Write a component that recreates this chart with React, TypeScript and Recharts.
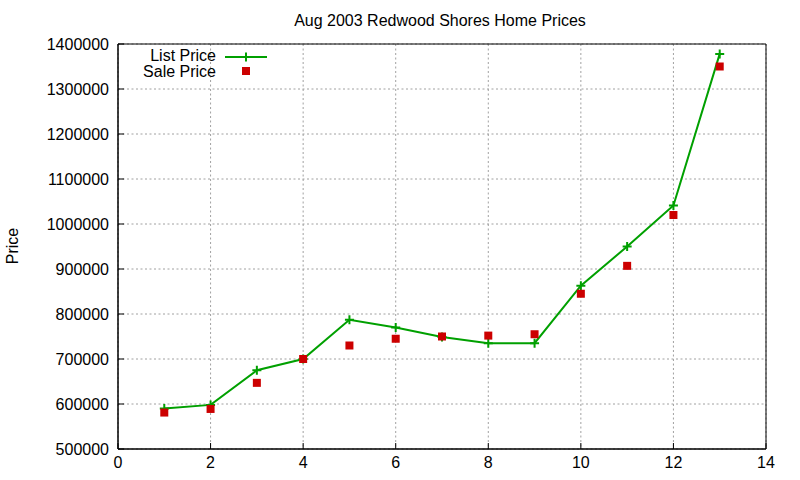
import React from 'react';
import { ComposedChart, Line, Scatter, XAxis, YAxis, CartesianGrid, ReferenceArea } from 'recharts';

// months (x) and prices
const months = [1, 2, 3, 4, 5, 6, 7, 8, 9, 10, 11, 12, 13];
const listPrice = [590000, 598000, 675000, 700000, 787000, 770000, 749000, 735000, 735000, 863000, 950000, 1041000, 1378000];
const salePrice = [581000, 589000, 647000, 700000, 730000, 745000, 750000, 752000, 755000, 845000, 907000, 1020000, 1350000];

const xTicks = [0, 2, 4, 6, 8, 10, 12, 14];
const yTicks = [500000, 600000, 700000, 800000, 900000, 1000000, 1100000, 1200000, 1300000, 1400000];

const GREEN = '#00a000';
const RED = '#cc0000';
const FONT = '"Liberation Sans", Arial, sans-serif';

const data = months.map((m, i) => ({ x: m, list: listPrice[i], sale: salePrice[i] }));

function PlusDot(props: any) {
  const { cx, cy, index } = props;
  if (cx == null || cy == null) return null;
  return (
    <path
      key={`plus-${index}`}
      d={`M${cx - 4.5},${cy}H${cx + 4.5}M${cx},${cy - 4.5}V${cy + 4.5}`}
      stroke={GREEN}
      strokeWidth={2}
      fill="none"
    />
  );
}

function SquareDot(props: any) {
  const { cx, cy } = props;
  if (cx == null || cy == null) return null;
  return <rect x={cx - 4} y={cy - 4} width={8} height={8} fill={RED} />;
}

const tickStyle = { fill: '#000', fontSize: 16, fontFamily: FONT };

export default function App() {
  return (
    <div style={{ position: 'absolute', left: 0, top: 0, width: 800, height: 480, background: '#fff' }}>
      <ComposedChart
        width={800}
        height={480}
        data={data}
        margin={{ top: 44, right: 34, bottom: 0, left: 0 }}
      >
        <CartesianGrid stroke="#a0a0a0" strokeDasharray="2 2.5" strokeWidth={1} />
        <XAxis
          dataKey="x"
          type="number"
          domain={[0, 14]}
          ticks={xTicks}
          allowDataOverflow
          height={31}
          tickSize={-6}
          tickMargin={14}
          axisLine={{ stroke: '#000' }}
          tickLine={{ stroke: '#000' }}
          tick={tickStyle}
          interval={0}
        />
        <XAxis
          xAxisId="top"
          orientation="top"
          dataKey="x"
          type="number"
          domain={[0, 14]}
          ticks={xTicks}
          allowDataOverflow
          height={0}
          tickSize={-6}
          axisLine={{ stroke: '#000' }}
          tickLine={{ stroke: '#000' }}
          tick={false}
        />
        <YAxis
          type="number"
          domain={[500000, 1400000]}
          ticks={yTicks}
          allowDataOverflow
          width={118}
          tickSize={-6}
          tickMargin={15}
          axisLine={{ stroke: '#000' }}
          tickLine={{ stroke: '#000' }}
          tick={tickStyle}
          interval={0}
        />
        <YAxis
          yAxisId="right"
          orientation="right"
          type="number"
          domain={[500000, 1400000]}
          ticks={yTicks}
          allowDataOverflow
          width={0}
          tickSize={-6}
          axisLine={{ stroke: '#000' }}
          tickLine={{ stroke: '#000' }}
          tick={false}
        />
        <ReferenceArea x1={0} x2={14} y1={500000} y2={1400000} fill="none" stroke="#000" strokeWidth={1} ifOverflow="visible" />
        <Line
          dataKey="list"
          type="linear"
          stroke={GREEN}
          strokeWidth={2}
          dot={PlusDot}
          activeDot={false}
          isAnimationActive={false}
        />
        <Scatter dataKey="sale" shape={SquareDot} isAnimationActive={false} />
      </ComposedChart>
      <svg
        width={800}
        height={480}
        style={{ position: 'absolute', left: 0, top: 0, pointerEvents: 'none' }}
        fontFamily={FONT}
        fontSize={16}
      >
        <text x={440} y={26} textAnchor="middle" fill="#000">Aug 2003 Redwood Shores Home Prices</text>
        <text x={18} y={246} textAnchor="middle" fill="#000" transform="rotate(-90 18 246)">Price</text>
        <text x={216} y={61} textAnchor="end" fill="#000">List Price</text>
        <path d="M225,57H267M246,52.5V61.5" stroke={GREEN} strokeWidth={2} fill="none" />
        <text x={216} y={77} textAnchor="end" fill="#000">Sale Price</text>
        <rect x={242} y={67} width={8} height={8} fill={RED} />
      </svg>
    </div>
  );
}
